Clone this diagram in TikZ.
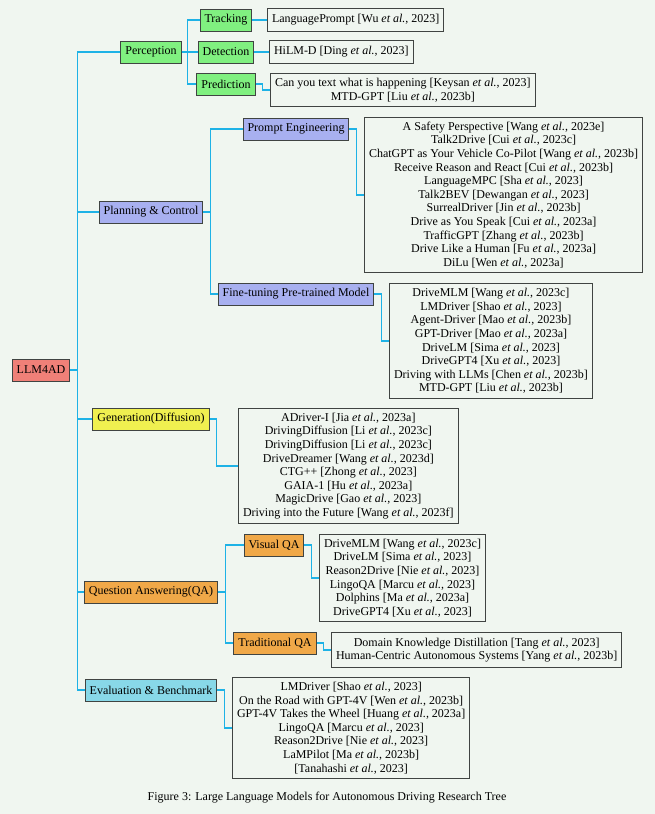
\documentclass[tikz,border=0pt]{standalone}
\usepackage{fontspec}
\setmainfont{Liberation Serif}
\usetikzlibrary{calc}
\definecolor{bgcol}{RGB}{240,246,240}
\definecolor{linkcol}{RGB}{30,178,230}
\definecolor{perccol}{RGB}{128,240,128}
\definecolor{plancol}{RGB}{168,176,240}
\definecolor{gencol}{RGB}{240,240,80}
\definecolor{qacol}{RGB}{240,168,72}
\definecolor{evalcol}{RGB}{136,216,232}
\definecolor{rootcol}{RGB}{240,128,120}
\definecolor{boxline}{RGB}{64,68,66}
\newcommand{\etal}{\textit{et al.}}

\begin{document}
\begin{tikzpicture}[x=1pt, y=-1pt,
	every node/.style={font=\fontsize{12}{13.6}\selectfont},
	box/.style={draw=boxline, line width=1pt, inner xsep=4.5pt, inner ysep=4.8pt, align=center},
	cat/.style={box, minimum height=22pt},
	ref/.style={box, minimum height=23pt, anchor=west},
	link/.style={linkcol, line width=1.2pt}]
	\fill[bgcol] (0,0) rectangle (655,814);
	\useasboundingbox (0,0) rectangle (655,814);

	% root and first level
	\node[cat, fill=rootcol] (root) at (41,370) {LLM4AD};
	\node[cat, fill=perccol] (perc) at (151,52) {Perception};
	\node[cat, fill=plancol] (plan) at (151,212) {Planning \& Control};
	\node[cat, fill=gencol] (gen) at (151,419) {Generation(Diffusion)};
	\node[cat, fill=qacol] (qa) at (151,592) {Question Answering(QA)};
	\node[cat, fill=evalcol] (eval) at (151,690) {Evaluation \& Benchmark};

	% second level
	\node[cat, fill=perccol] (track) at (226,20) {Tracking};
	\node[cat, fill=perccol] (detect) at (226,52) {Detection};
	\node[cat, fill=perccol] (pred) at (226,84) {Prediction};
	\node[cat, fill=plancol] (prompt) at (296,129) {Prompt Engineering};
	\node[cat, fill=plancol] (finetune) at (296,294) {Fine-tuning Pre-trained Model};
	\node[cat, fill=qacol] (vqa) at (274,545) {Visual QA};
	\node[cat, fill=qacol] (tqa) at (275,643) {Traditional QA};

	% references
	\node[ref] (trackref) at (267,20) {LanguagePrompt [Wu \etal, 2023]};
	\node[ref] (detectref) at (269,52) {HiLM-D [Ding \etal, 2023]};
	\node[ref] (predref) at (270,90) {Can you text what is happening [Keysan \etal, 2023]\\
		MTD-GPT [Liu \etal, 2023b]};
	\node[ref] (promptref) at (364,195) {A Safety Perspective [Wang \etal, 2023e]\\
		Talk2Drive [Cui \etal, 2023c]\\
		ChatGPT as Your Vehicle Co-Pilot [Wang \etal, 2023b]\\
		Receive Reason and React [Cui \etal, 2023b]\\
		LanguageMPC [Sha \etal, 2023]\\
		Talk2BEV [Dewangan \etal, 2023]\\
		SurrealDriver [Jin \etal, 2023b]\\
		Drive as You Speak [Cui \etal, 2023a]\\
		TrafficGPT [Zhang \etal, 2023b]\\
		Drive Like a Human [Fu \etal, 2023a]\\
		DiLu [Wen \etal, 2023a]};
	\node[ref] (finetuneref) at (389,341) {DriveMLM [Wang \etal, 2023c]\\
		LMDriver [Shao \etal, 2023]\\
		Agent-Driver [Mao \etal, 2023b]\\
		GPT-Driver [Mao \etal, 2023a]\\
		DriveLM [Sima \etal, 2023]\\
		DriveGPT4 [Xu \etal, 2023]\\
		Driving with LLMs [Chen \etal, 2023b]\\
		MTD-GPT [Liu \etal, 2023b]};
	\node[ref] (genref) at (238,466) {ADriver-I [Jia \etal, 2023a]\\
		DrivingDiffusion [Li \etal, 2023c]\\
		DrivingDiffusion [Li \etal, 2023c]\\
		DriveDreamer [Wang \etal, 2023d]\\
		CTG++ [Zhong \etal, 2023]\\
		GAIA-1 [Hu \etal, 2023a]\\
		MagicDrive [Gao \etal, 2023]\\
		Driving into the Future [Wang \etal, 2023f]};
	\node[ref] (vqaref) at (319,578) {DriveMLM [Wang \etal, 2023c]\\
		DriveLM [Sima \etal, 2023]\\
		Reason2Drive [Nie \etal, 2023]\\
		LingoQA [Marcu \etal, 2023]\\
		Dolphins [Ma \etal, 2023a]\\
		DriveGPT4 [Xu \etal, 2023]};
	\node[ref] (tqaref) at (331,650) {Domain Knowledge Distillation [Tang \etal, 2023]\\
		Human-Centric Autonomous Systems [Yang \etal, 2023b]};
	\node[ref] (evalref) at (232,728) {LMDriver [Shao \etal, 2023]\\
		On the Road with GPT-4V [Wen \etal, 2023b]\\
		GPT-4V Takes the Wheel [Huang \etal, 2023a]\\
		LingoQA [Marcu \etal, 2023]\\
		Reason2Drive [Nie \etal, 2023]\\
		LaMPilot [Ma \etal, 2023b]\\
		{[}Tanahashi \etal, 2023]};

	\node (caption) at (327,798) {Figure 3: Large Language Models for Autonomous Driving Research Tree};

	% connectors
	\foreach \c in {perc,plan,gen,qa,eval}
		\draw[link] (root.east) -- ++(7,0) |- (\c.west);
	\foreach \c in {track,detect,pred}
		\draw[link] (perc.east) -- ++(6,0) |- (\c.west);
	\foreach \c in {prompt,finetune}
		\draw[link] (plan.east) -- ++(7,0) |- (\c.west);
	\foreach \c in {vqa,tqa}
		\draw[link] (qa.east) -- ++(7,0) |- (\c.west);
	\foreach \a/\b in {track/trackref, detect/detectref, pred/predref, prompt/promptref, finetune/finetuneref, gen/genref, vqa/vqaref, tqa/tqaref, eval/evalref}
		\draw[link] (\a.east) -- ++(7,0) |- (\b.west);
\end{tikzpicture}
\end{document}
